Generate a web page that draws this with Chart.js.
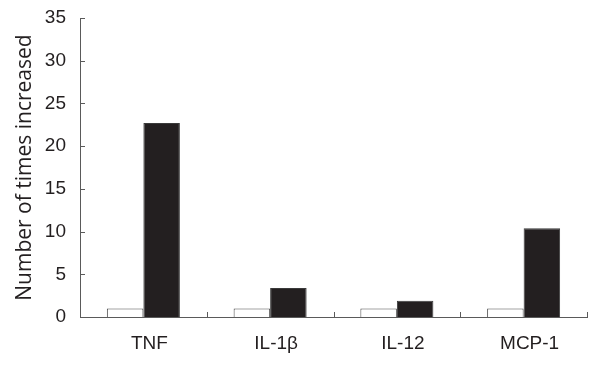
<!DOCTYPE html>
<html>
<head>
<meta charset="utf-8">
<script src="https://cdn.jsdelivr.net/npm/chart.js@4/dist/chart.umd.min.js"></script>
<style>
  html, body { margin: 0; padding: 0; background: #fff; }
  #wrap { width: 600px; height: 373px; }
</style>
</head>
<body>
<div id="wrap"><canvas id="cytokineChart"></canvas></div>
<script>
// categories and values
const categories = ['TNF', 'IL-1β', 'IL-12', 'MCP-1'];
const controlValues = [1, 1, 1, 1];
const treatedValues = [22.7, 3.4, 1.9, 10.4];
const yTicks = [0, 5, 10, 15, 20, 25, 30, 35];

const axisColor = '#5a5a5a';
const textColor = '#231f20';
const tickFont = { family: 'Liberation Sans, Arial, sans-serif', size: 19 };

// small inward tick marks, like the original figure
const inwardTicks = {
    id: 'inwardTicks',
    afterDraw(chart) {
        const ctx = chart.ctx;
        const x = chart.scales.x;
        const y = chart.scales.y;
        const area = chart.chartArea;
        ctx.save();
        ctx.strokeStyle = axisColor;
        ctx.lineWidth = 1;
        ctx.beginPath();
        yTicks.forEach(v => {
            const py = Math.round(y.getPixelForValue(v)) + 0.5;
            ctx.moveTo(area.left, py);
            ctx.lineTo(area.left + 5, py);
        });
        const step = (area.right - area.left) / categories.length;
        for (let i = 1; i <= categories.length; i++) {
            const px = Math.round(x.getPixelForValue(i - 1) + step / 2) + 0.5;
            ctx.moveTo(px, area.bottom);
            ctx.lineTo(px, area.bottom - 5);
        }
        ctx.stroke();
        ctx.restore();
    }
};

new Chart(document.getElementById('cytokineChart').getContext('2d'), {
    type: 'bar',
    data: {
        labels: categories,
        datasets: [
            {
                label: 'Control',
                data: controlValues,
                backgroundColor: '#ffffff',
                borderColor: '#4a4a4a',
                borderWidth: 1
            },
            {
                label: 'Treated',
                data: treatedValues,
                backgroundColor: '#231f20',
                borderColor: '#3a3a3a',
                borderWidth: 1
            }
        ]
    },
    options: {
        responsive: true,
        maintainAspectRatio: false,
        animation: false,
        layout: { padding: { top: 18, right: 13, left: 0, bottom: 0 } },
        plugins: {
            legend: { display: false },
            tooltip: { enabled: false }
        },
        datasets: {
            bar: { categoryPercentage: 0.576, barPercentage: 1.0 }
        },
        scales: {
            x: {
                grid: { display: false, drawTicks: false },
                border: { display: true, color: axisColor, width: 1 },
                ticks: { color: textColor, font: tickFont, padding: 15, labelOffset: 6 },
                afterFit(scale) {
                    scale.height = 56;
                    scale.paddingLeft = 0;
                    scale.paddingRight = 0;
                }
            },
            y: {
                min: 0,
                max: 35,
                grid: { display: false, drawTicks: false },
                border: { display: true, color: axisColor, width: 1 },
                afterBuildTicks(scale) { scale.ticks = yTicks.map(v => ({ value: v })); },
                ticks: { color: textColor, font: tickFont, padding: 14 },
                title: {
                    display: true,
                    text: 'Number of times increased',
                    color: textColor,
                    font: { family: 'Open Sans, Noto Sans, sans-serif', size: 21 },
                    padding: { top: 12, bottom: 0 }
                },
                afterFit(scale) {
                    scale.width = 80;
                    scale.paddingTop = 0;
                    scale.paddingBottom = 0;
                }
            }
        }
    },
    plugins: [inwardTicks]
});
</script>
</body>
</html>
